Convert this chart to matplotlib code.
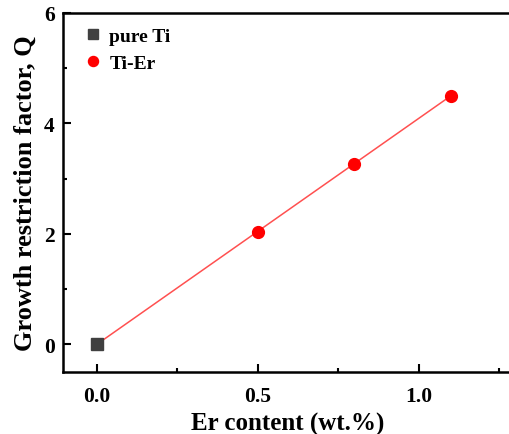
import matplotlib
matplotlib.use("Agg")
import matplotlib.pyplot as plt
from matplotlib.ticker import MultipleLocator

pure_x = [0.0]
pure_y = [0.0]
er_x = [0.5, 0.8, 1.1]
er_y = [2.04, 3.27, 4.50]
fit_x = [0.0, 1.1]
fit_y = [0.0, 4.50]

plt.rcParams['font.family'] = ['Liberation Serif', 'DejaVu Serif']
plt.rcParams['font.weight'] = 'bold'

fig = plt.figure(figsize=(5.09, 4.35), dpi=100)
W, H = 509, 435
left, right, top, bottom = 63, 512, 14, 373
axw, axh = right - left, bottom - top
ax = fig.add_axes([left / W, 1 - bottom / H, axw / W, axh / H])

ax.plot(fit_x, fit_y, color='#ff5050', lw=1.1, zorder=2)
ax.plot(pure_x, pure_y, 's', color='#404040', ms=8.5, ls='none', label='pure Ti', zorder=3)
ax.plot(er_x, er_y, 'o', color='#ff0000', ms=8.5, ls='none', label='Ti-Er', zorder=3)

ax.set_xlim(-0.105, 1.29)
ax.set_ylim(-0.5, 6)
ax.xaxis.set_major_locator(MultipleLocator(0.5))
ax.xaxis.set_minor_locator(MultipleLocator(0.25))
ax.yaxis.set_major_locator(MultipleLocator(2))
ax.yaxis.set_minor_locator(MultipleLocator(1))
ax.tick_params(which='both', direction='in', width=1.5, labelsize=15.5)
ax.tick_params(which='major', length=6)
ax.tick_params(which='minor', length=3)
ax.tick_params(axis='x', which='major', pad=10)
ax.tick_params(axis='y', which='major', pad=6)
for lab in ax.get_xticklabels() + ax.get_yticklabels():
    lab.set_fontweight('bold')
for s in ax.spines.values():
    s.set_linewidth(1.8)

ax.set_xlabel('Er content (wt.%)', fontsize=18, fontweight='bold', labelpad=4)
ax.set_ylabel('Growth restriction factor, Q', fontsize=19, fontweight='bold', labelpad=5)

ax.legend(loc='upper left', frameon=False, handletextpad=0.35,
          borderaxespad=0, borderpad=0, labelspacing=0.5, handlelength=1.0,
          markerscale=0.85,
          bbox_to_anchor=(20 / axw, 1 - 14 / axh),
          prop={'weight': 'bold', 'size': 14})

fig.savefig('out.png', dpi=100)
